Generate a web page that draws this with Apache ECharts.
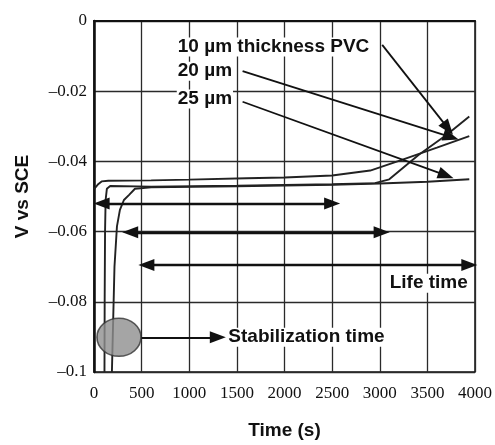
<!DOCTYPE html>
<html>
<head>
<meta charset="utf-8">
<title>Open circuit potential of PVC-coated electrodes</title>
<script src="https://cdn.jsdelivr.net/npm/echarts@6/dist/echarts.min.js"></script>
<style>
  html, body { margin: 0; padding: 0; background: #fff; }
  #chart { width: 495px; height: 445px; }
</style>
</head>
<body>
<div id="chart"></div>
<script>
// Potential (V vs SCE) against time (s) for three PVC coating thicknesses
const timeTicks = [0, 500, 1000, 1500, 2000, 2500, 3000, 3500, 4000];
const potentialTicks = [0, -0.02, -0.04, -0.06, -0.08, -0.1];

const pvc10um = [
  [0, -0.0479], [40, -0.0466], [80, -0.0457], [150, -0.0455], [600, -0.0454],
  [1000, -0.0452], [1600, -0.0448], [2000, -0.0446], [2500, -0.0440],
  [2900, -0.0426], [3240, -0.0395], [3600, -0.0361], [3940, -0.0328]
];
const pvc20um = [
  [110, -0.1], [112, -0.08], [116, -0.06], [122, -0.051], [135, -0.0478],
  [170, -0.0470], [600, -0.0472], [1500, -0.0469], [2500, -0.0465],
  [2950, -0.0462], [3100, -0.0451], [3410, -0.0381], [3700, -0.0325], [3940, -0.0272]
];
const pvc25um = [
  [188, -0.1], [215, -0.07], [241, -0.0585], [272, -0.0538], [314, -0.051],
  [366, -0.0496], [430, -0.0478], [600, -0.0474], [1500, -0.0471],
  [2500, -0.0467], [3000, -0.0463], [3500, -0.0458], [3940, -0.0451]
];

// Life-time spans [start, end] and the potential level each arrow is drawn at
const lifeSpans = [[80, 2500], [380, 3020], [550, 3940]];
const lifeLevels = [-0.052, -0.0602, -0.0695];

const boldFont = 'Liberation Sans, Arial, sans-serif';
const tickFont = 'Liberation Serif, Times New Roman, serif';
const ink = '#111';
const head = [12, 16];

const lifeArrows = lifeSpans.map((s, i) => [
  { coord: [s[0], lifeLevels[i]], symbol: 'triangle', symbolSize: head, lineStyle: { width: 2.3 } },
  { coord: [s[1], lifeLevels[i]], symbol: 'triangle', symbolSize: head }
]);

const calloutArrows = [
  [{ coord: [3026, -0.0068] }, { coord: [3717, -0.0306] }],
  [{ coord: [1560, -0.0143] }, { coord: [3748, -0.0331] }],
  [{ coord: [1560, -0.0230] }, { coord: [3696, -0.0440] }],
  [{ coord: [500, -0.0901], lineStyle: { width: 2 } }, { coord: [1300, -0.0901] }]
];

const noteStyle = {
  show: true,
  fontFamily: boldFont,
  fontWeight: 'bold',
  fontSize: 19,
  color: ink,
  opacity: 1,
  textBorderWidth: 0,
  textShadowBlur: 0,
  backgroundColor: '#fff',
  padding: [0, 1],
  distance: 0
};

const notes = [
  { value: [869, -0.0074], text: '10 µm thickness PVC', pos: 'right' },
  { value: [869, -0.0143], text: '20 µm', pos: 'right' },
  { value: [869, -0.0222], text: '25 µm', pos: 'right' },
  { value: [3935, -0.0747], text: 'Life time', pos: 'left' },
  { value: [1400, -0.0901], text: 'Stabilization time', pos: 'right' }
];

const chart = echarts.init(document.getElementById('chart'), null, { renderer: 'canvas' });

const lineSeries = (name, data) => ({
  name: name,
  type: 'line',
  data: data,
  showSymbol: false,
  symbol: 'none',
  smooth: false,
  clip: true,
  lineStyle: { color: '#222', width: 1.9 },
  z: 3
});

chart.setOption({
  animation: false,
  backgroundColor: '#fff',
  grid: {
    left: 94, right: 19, top: 21, bottom: 67,
    show: true, borderColor: '#111', borderWidth: 1.5
  },
  xAxis: {
    type: 'value',
    min: timeTicks[0],
    max: timeTicks[timeTicks.length - 1],
    interval: 500,
    name: 'Time (s)',
    nameLocation: 'middle',
    nameGap: 49,
    nameTextStyle: { fontFamily: boldFont, fontWeight: 'bold', fontSize: 19, color: ink },
    axisLine: { show: true, lineStyle: { color: '#111', width: 2 } },
    axisTick: { show: false },
    axisLabel: {
      margin: 13,
      fontFamily: tickFont, fontSize: 17, color: ink,
      formatter: v => String(v)
    },
    splitLine: { show: true, lineStyle: { color: '#2a2a2a', width: 1.3 } }
  },
  yAxis: {
    type: 'value',
    min: potentialTicks[potentialTicks.length - 1],
    max: potentialTicks[0],
    interval: 0.02,
    name: 'V vs SCE',
    nameLocation: 'middle',
    nameRotate: 90,
    nameGap: 62,
    nameTextStyle: { fontFamily: boldFont, fontWeight: 'bold', fontSize: 19, color: ink },
    axisLine: { show: true, lineStyle: { color: '#111', width: 2.5 } },
    axisTick: { show: false },
    axisLabel: {
      margin: 7,
      fontFamily: tickFont, fontSize: 17, color: ink,
      formatter: v => {
        const r = Math.round(v * 100) / 100;
        if (r === 0) return '0';
        return '\u2013' + parseFloat(Math.abs(r).toFixed(2)).toString();
      }
    },
    splitLine: { show: true, lineStyle: { color: '#2a2a2a', width: 1.3 } }
  },
  series: [
    lineSeries('10 µm', pvc10um),
    lineSeries('20 µm', pvc20um),
    lineSeries('25 µm', pvc25um),
    {
      // stabilization marker and all annotation arrows
      name: 'Stabilization',
      type: 'scatter',
      data: [[262, -0.0901]],
      symbol: 'circle',
      symbolSize: [44, 38],
      itemStyle: { color: '#8f8f8f', borderColor: '#333', borderWidth: 1.5 },
      z: 4,
      markLine: {
        silent: true,
        animation: false,
        symbol: ['none', 'triangle'],
        symbolSize: head,
        label: { show: false },
        lineStyle: { color: ink, width: 1.8, type: 'solid', opacity: 1 },
        itemStyle: { color: ink },
        data: calloutArrows.concat(lifeArrows)
      }
    },
    {
      name: 'Notes',
      type: 'scatter',
      symbolSize: 0,
      silent: true,
      z: 6,
      itemStyle: { opacity: 1 },
      data: notes.map(n => ({
        value: n.value,
        label: Object.assign({}, noteStyle, { position: n.pos, formatter: n.text })
      }))
    }
  ]
});
</script>
</body>
</html>
